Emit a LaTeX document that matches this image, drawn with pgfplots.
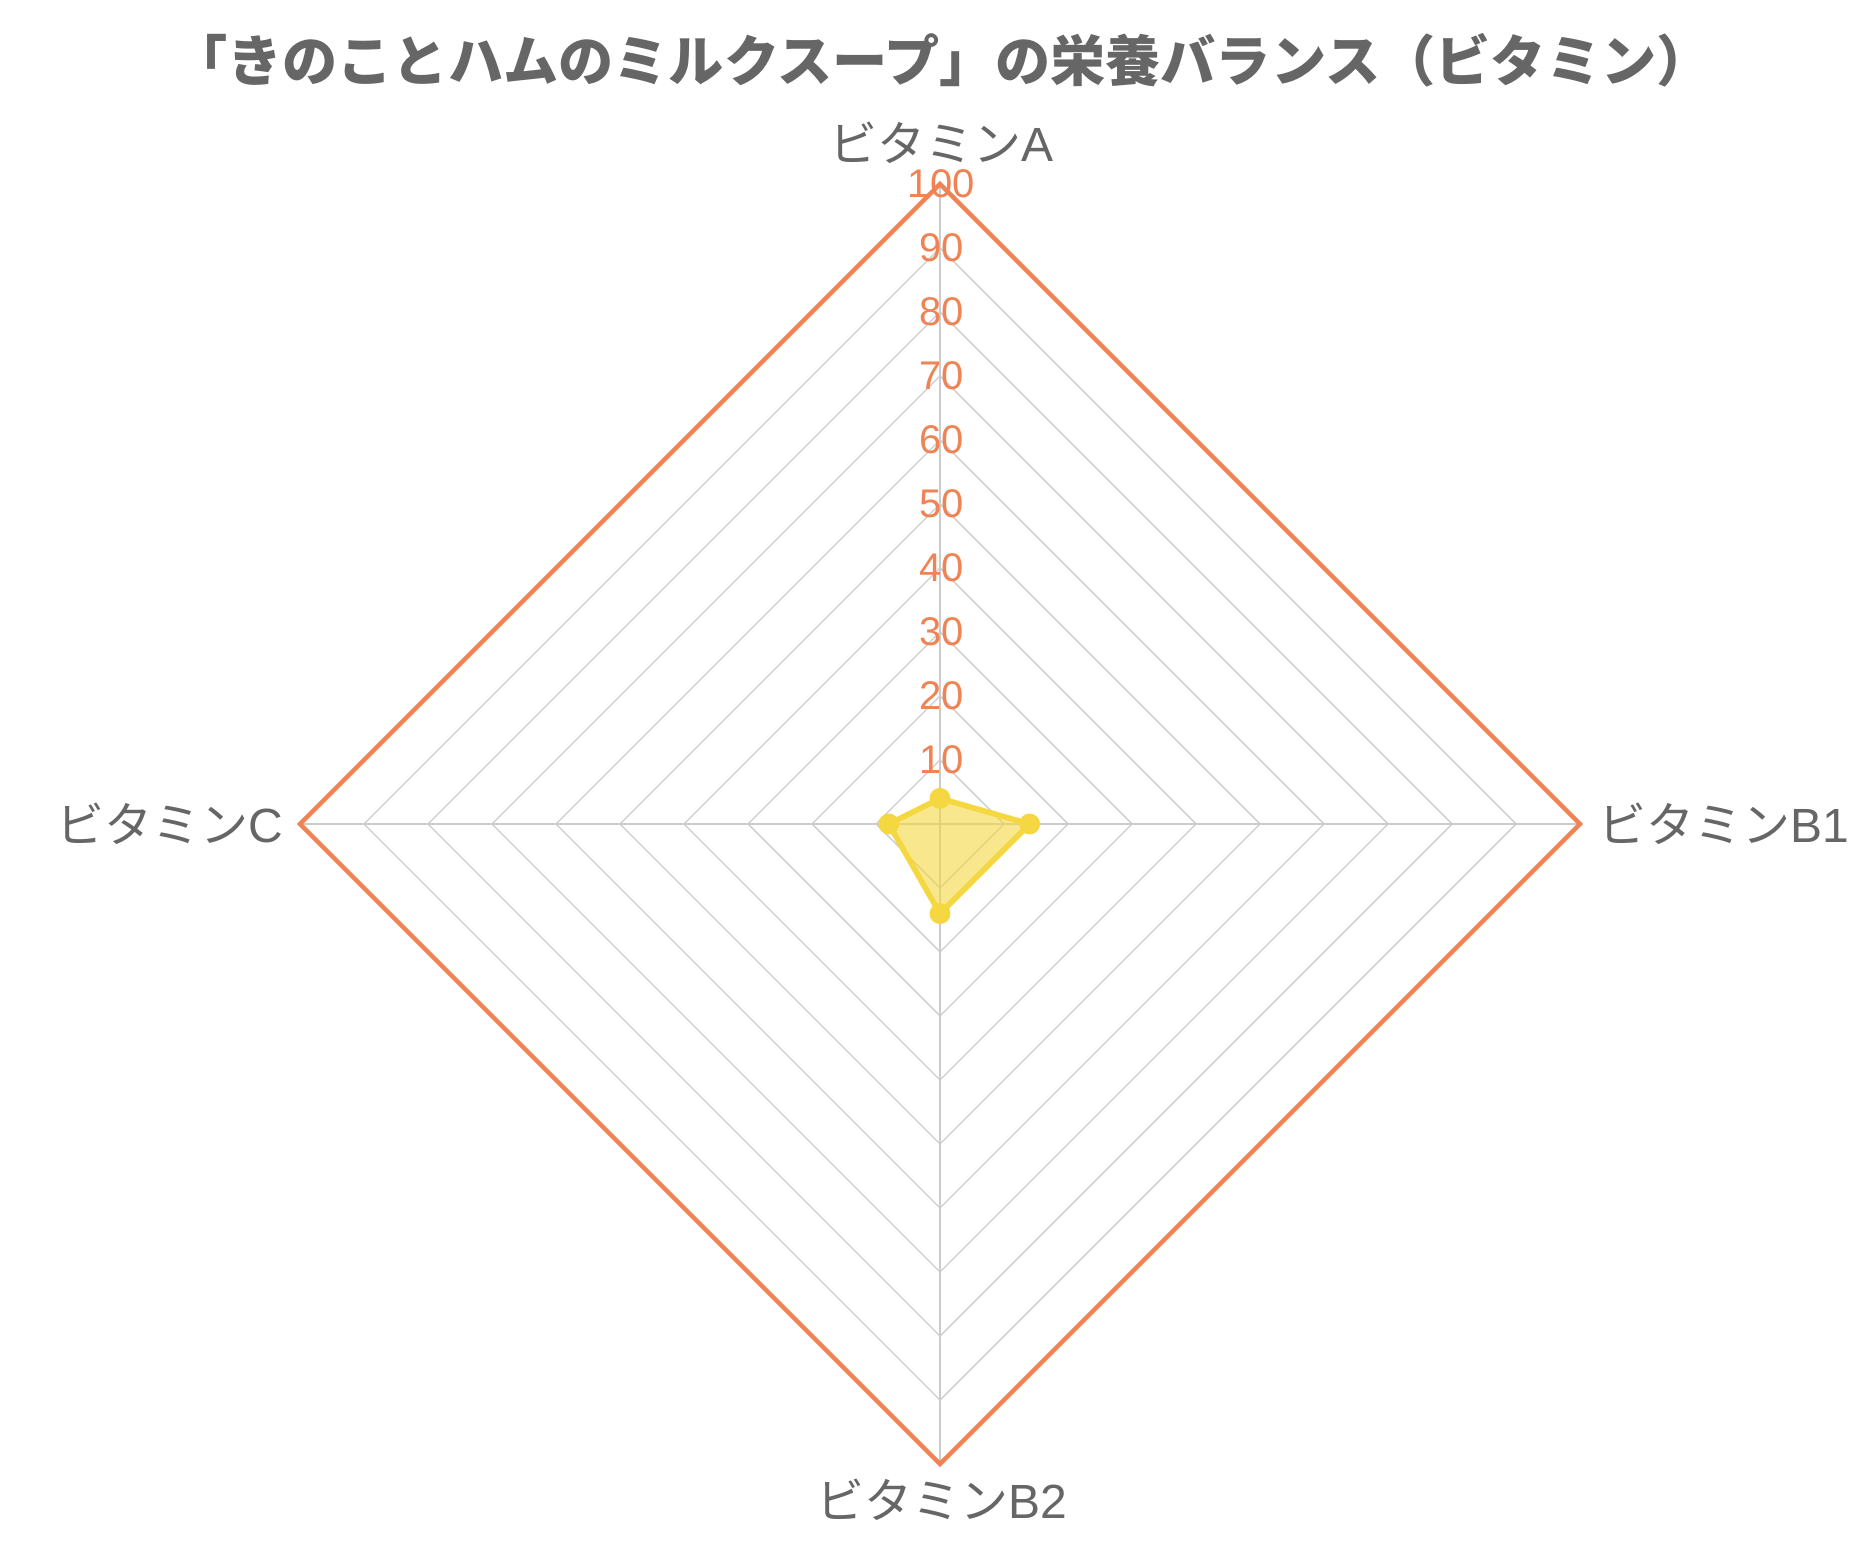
\documentclass[border=0pt]{standalone}
\usepackage{pgfplots}
\pgfplotsset{compat=1.18}
\usepackage{fontspec}
\setmainfont{Liberation Sans}
\newfontfamily\cjk{Noto Sans CJK JP}
\definecolor{ttl}{HTML}{666666}
\definecolor{org}{HTML}{EF8354}
\definecolor{yel}{HTML}{F5D742}
\definecolor{grd}{HTML}{CCCCCC}
\begin{document}
\begin{tikzpicture}
\begin{axis}[hide axis, scale only axis, width=320pt, height=320pt,
  xmin=-100, xmax=100, ymin=-100, ymax=100, clip=false]
\path (axis cs:-146.875,-113.4375) rectangle (axis cs:145.3125,128.75);
\pgfplotsinvokeforeach{10,20,...,90}{
  \addplot[grd, line width=0.35pt] coordinates {(0,#1)(#1,0)(0,-#1)(-#1,0)} -- cycle;
}
\addplot[grd, line width=0.35pt] coordinates {(0,-100)(0,100)};
\addplot[grd, line width=0.35pt] coordinates {(-100,0)(100,0)};
\addplot[org, line width=1.1pt] coordinates {(0,100)(100,0)(0,-100)(-100,0)} -- cycle;
\addplot[yel, line width=1.4pt, fill=yel, fill opacity=0.6, mark=*, mark size=1.9pt,
  mark options={fill=yel, fill opacity=1}] coordinates {(0,4)(14,0)(0,-14)(-8,0)} -- cycle;
\pgfplotsinvokeforeach{10,20,...,100}{
  \node[text=org, font=\fontsize{10}{10}\selectfont] at (axis cs:0.2,#1) {#1};
}
\node[text=ttl, font=\fontsize{12}{12}\selectfont] at (axis cs:0.3,106.4) {{\cjk ビタミン}A};
\node[text=ttl, font=\fontsize{12}{12}\selectfont] at (axis cs:0.3,-105.6) {{\cjk ビタミン}B2};
\node[text=ttl, font=\fontsize{12}{12}\selectfont, anchor=west, inner sep=0pt] at (axis cs:102.8,0) {{\cjk ビタミン}B1};
\node[text=ttl, font=\fontsize{12}{12}\selectfont, anchor=east, inner sep=0pt] at (axis cs:-102.5,0) {{\cjk ビタミン}C};
\node[text=ttl, font=\fontsize{13.8}{13.8}\selectfont\cjk\bfseries] at (axis cs:0.3,119.4) {「きのことハムのミルクスープ」の栄養バランス（ビタミン）};
\end{axis}
\end{tikzpicture}
\end{document}
